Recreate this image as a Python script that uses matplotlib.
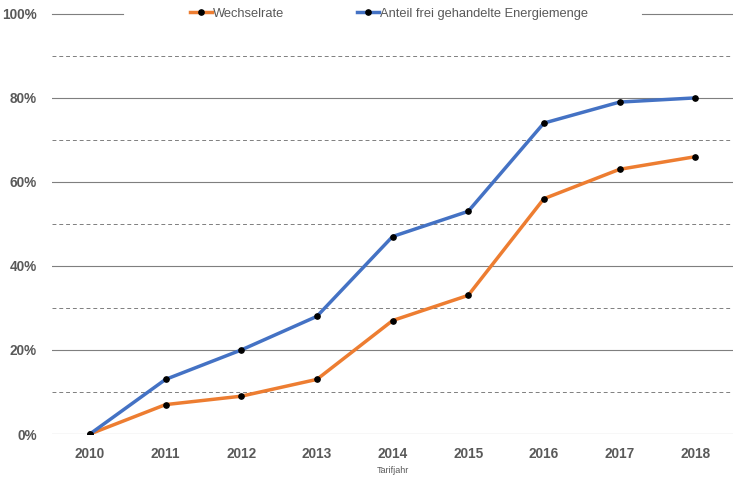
import numpy as np
import matplotlib.pyplot as plt
from matplotlib.ticker import FuncFormatter, MultipleLocator

plt.rcParams['font.family'] = ['Liberation Sans', 'DejaVu Sans']

# ── data ──
years = [2010, 2011, 2012, 2013, 2014, 2015, 2016, 2017, 2018]
wechselrate = [0, 7, 9, 13, 27, 33, 56, 63, 66]
anteil_frei = [0, 13, 20, 28, 47, 53, 74, 79, 80]

ORANGE = "#ed7d31"
BLUE = "#4472c4"
TXT = "#595959"

fig = plt.figure(figsize=(7.33, 4.78), dpi=100)
ax = fig.add_axes([0.071, 0.092, 0.929, 0.879])

x = np.arange(len(years))
ax.plot(x, wechselrate, color=ORANGE, lw=2.5, marker="o", ms=3.8,
        mfc="black", mec="black", label="Wechselrate", zorder=3)
ax.plot(x, anteil_frei, color=BLUE, lw=2.5, marker="o", ms=3.8,
        mfc="black", mec="black", label="Anteil frei gehandelte Energiemenge",
        zorder=3)

ax.set_xlim(-0.5, len(years) - 0.5)
ax.set_ylim(0, 100)
ax.set_xticks(x)
ax.set_xticklabels([str(y) for y in years])
ax.yaxis.set_major_locator(MultipleLocator(20))
ax.yaxis.set_major_formatter(FuncFormatter(lambda v, _: f"{v:.0f}%"))

# gridlines: solid every 20 %, dashed in between, light baseline
for v in range(20, 100, 20):
    ax.axhline(v, color="#7f7f7f", lw=0.8, zorder=1)
for v in range(10, 100, 20):
    ax.axhline(v, color="#7f7f7f", lw=0.7, ls=(0, (4, 3)), zorder=1)
ax.axhline(0, color="#d9d9d9", lw=1.0, zorder=1)
# top line is interrupted by the legend
ax.axhline(100, xmin=0, xmax=0.104, color="#7f7f7f", lw=0.8, clip_on=False)
ax.axhline(100, xmin=0.866, xmax=1, color="#7f7f7f", lw=0.8, clip_on=False)

for s in ax.spines.values():
    s.set_visible(False)
ax.tick_params(length=0)
ax.tick_params(axis="y", pad=11)
ax.tick_params(axis="x", pad=9)
for lab in ax.get_xticklabels() + ax.get_yticklabels():
    lab.set_fontweight("bold")
    lab.set_color(TXT)
    lab.set_fontsize(9.8)

ax.set_xlabel("Tarifjahr", fontsize=6.5, color=TXT, labelpad=4)

ax.legend(loc="center", bbox_to_anchor=(0.495, 1.0), ncol=2, frameon=False,
          fontsize=9.3, handlelength=1.7, handletextpad=0.1,
          columnspacing=5.6, labelcolor=TXT)

fig.savefig("out.png", dpi=100)
